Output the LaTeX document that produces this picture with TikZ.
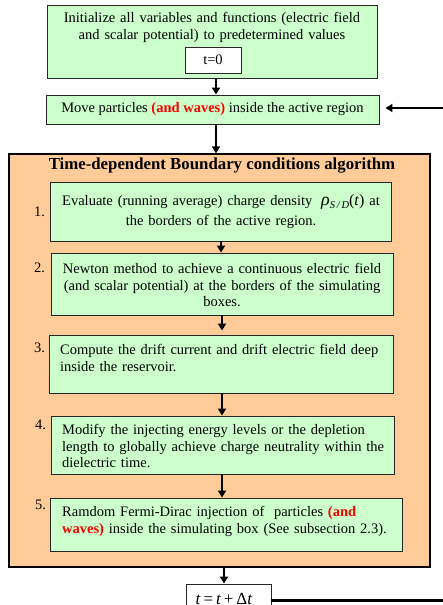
\documentclass[tikz,border=0pt]{standalone}
\usepackage{fontspec}
\setmainfont{Liberation Serif}
\usetikzlibrary{arrows.meta}
\definecolor{boxgreen}{HTML}{CCFFCC}
\definecolor{algorange}{HTML}{FFCC99}
\definecolor{hired}{HTML}{FF0000}
\newcommand{\redb}[1]{\textcolor{hired}{\textbf{#1}}}
\newcommand{\jline}[2]{\makebox[#1][s]{#2}}
\begin{document}
\begin{tikzpicture}[x=1pt,y=-1pt,
  font=\fontsize{14.5}{16.7}\selectfont,
  gbox/.style={draw=black!85, line width=0.9pt, fill=boxgreen, inner sep=0pt},
  wbox/.style={draw=black!85, line width=0.9pt, fill=white, inner sep=0pt},
  txt/.style={inner sep=0pt, text width=#1},
  arr/.style={line width=2.2pt, -{Triangle[width=8pt,length=7pt]}},
  num/.style={inner sep=0pt, anchor=west}]
\useasboundingbox (0,0) rectangle (443,605);

% top
\node[gbox, minimum width=330pt, minimum height=73pt] (init) at (212,41.5) {};
\node[txt=328pt, align=center] (inittxt) at (212,27.5) {Initialize all variables and functions (electric field\\ and scalar potential) to predetermined values};
\node[wbox, minimum width=56pt, minimum height=26pt] (t0) at (213,60) {t=0};

\node[gbox, minimum width=333pt, minimum height=29pt] (move) at (212.5,109.5) {Move particles \redb{(and waves)} inside the active region};

% orange algorithm box
\node[draw=black, line width=1.2pt, fill=algorange, minimum width=421pt, minimum height=413pt, inner sep=0pt] (alg) at (219.5,360.5) {};
\node[inner sep=0pt, font=\fontsize{16.8}{20}\selectfont\bfseries] (title) at (222,166) {Time-dependent Boundary conditions algorithm};

\node[gbox, minimum width=341pt, minimum height=59pt] (b1) at (221,211.5) {};
\node[txt=338pt, align=center, font=\fontsize{14.5}{20}\selectfont] (b1t) at (221,211.5) {Evaluate (running average) charge density \;{\fontsize{18}{18}\selectfont\itshape ρ}\raisebox{-3pt}{\fontsize{10.5}{10.5}\selectfont\itshape S\,/\,D}{\fontsize{16}{16}\selectfont(\textit{t})} at\\ the borders of the active region.};
\node[num] (n1) at (34,212) {1.};

\node[gbox, minimum width=342pt, minimum height=62pt] (b2) at (222,284) {};
\node[txt=338pt, align=center] (b2t) at (222,285) {Newton method to achieve a continuous electric field\\ (and scalar potential) at the borders of the simulating\\ boxes.};
\node[num] (n2) at (34,268) {2.};

\node[gbox, minimum width=344pt, minimum height=58pt] (b3) at (221,364) {};
\node[txt=330pt, align=left, anchor=west] (b3t) at (60,358.3) {Compute the drift current and drift electric field deep\\ inside the reservoir.};
\node[num] (n3) at (34,348) {3.};

\node[gbox, minimum width=343pt, minimum height=58pt] (b4) at (222.5,445) {};
\node[txt=321pt, align=left, anchor=west] (b4t) at (62,446) {\jline{321pt}{Modify the injecting energy levels or the depletion}\\ \jline{321pt}{length to globally achieve charge neutrality within the}\\ dielectric time.};
\node[num] (n4) at (35,425) {4.};

\node[gbox, minimum width=352pt, minimum height=53pt] (b5) at (226,524.5) {};
\node[txt=330pt, align=left, anchor=west] (b5t) at (62,521.5) {\jline{329.5pt}{Ramdom Fermi-Dirac injection of \ particles \redb{(and}}\\ \redb{waves)} inside the simulating box (See subsection 2.3).};
\node[num] (n5) at (35,505) {5.};

% bottom
\node[wbox, minimum width=85pt, minimum height=40pt] (tinc) at (228.5,604) {};
\node[inner sep=0pt, anchor=base, font=\fontsize{17}{20}\selectfont] (tinct) at (224,604) {\textit{t}\,=\,\textit{t}\,+\,Δ\textit{t}};

\coordinate (loopin) at (443,108);
\coordinate (loopout) at (443,600);

% connectors
\draw[arr] (init.south -| 216,0) -- (move.north -| 216,0);
\draw[arr] (move.south -| 216,0) -- (alg.north -| 216,0);
\draw[arr] (b1.south -| 221,0) -- (b2.north -| 221,0);
\draw[arr] (b2.south -| 222,0) -- ([yshift=4pt]b3.north -| 222,0);
\draw[arr, line width=2.8pt] (b3.south -| 222,0) -- (b4.north -| 222,0);
\draw[arr] (b4.south -| 222,0) -- (b5.north -| 222,0);
\draw[arr] (alg.south -| 224,0) -- (tinc.north -| 224,0);
\draw[arr, shorten >=6pt] (loopin) -- (move.east |- loopin);
\draw[line width=3pt] (tinc.east |- loopout) -- (loopout);
\end{tikzpicture}
\end{document}
